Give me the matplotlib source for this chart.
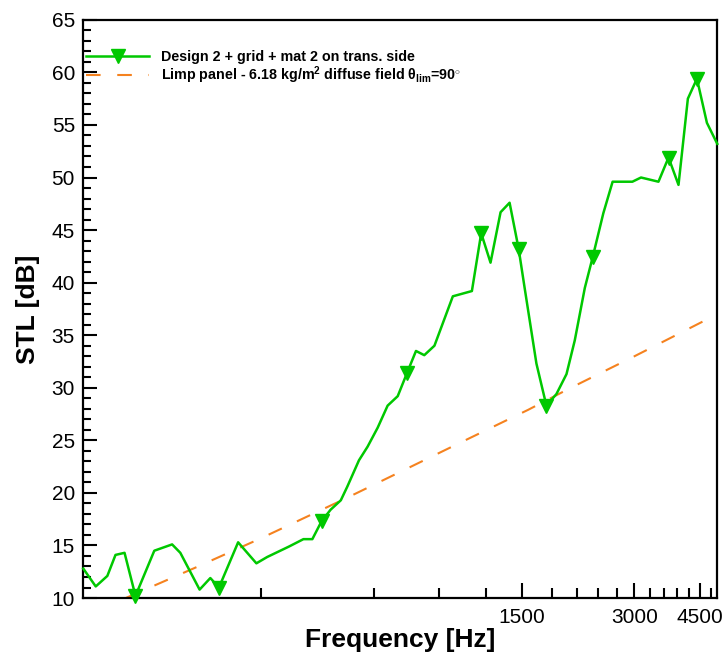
import matplotlib
matplotlib.use("Agg")
import matplotlib.pyplot as plt
from matplotlib.ticker import FixedLocator, NullFormatter, MultipleLocator

plt.rcParams['font.family'] = ['Liberation Sans', 'DejaVu Sans']
plt.rcParams['mathtext.fontset'] = 'custom'
plt.rcParams['mathtext.rm'] = 'Liberation Sans:bold'
plt.rcParams['mathtext.it'] = 'Liberation Sans:bold'

# measured curve: Design 2 + grid + mat 2 on trans. side
freq = [100, 108, 116, 122, 129, 138, 155, 173, 182, 205, 219, 231, 260, 291,
        311, 356, 389, 411, 435, 460, 490, 510, 548, 578, 615, 654, 696, 737,
        779, 820, 873, 978, 1100, 1165, 1234, 1313, 1388, 1468, 1523, 1638,
        1742, 1853, 1972, 2075, 2208, 2317, 2475, 2621, 2772, 2961, 3123, 3478,
        3701, 3936, 4170, 4410, 4690, 5000]
stl = [12.8, 11.1, 12.1, 14.1, 14.3, 10.2, 14.5, 15.1, 14.3, 10.8, 11.9, 11.0,
       15.3, 13.3, 13.9, 14.9, 15.6, 15.6, 17.3, 18.4, 19.3, 20.6, 23.1, 24.4,
       26.2, 28.3, 29.2, 31.4, 33.5, 33.1, 34.0, 38.7, 39.2, 44.7, 41.9, 46.7,
       47.6, 43.2, 39.5, 32.3, 28.3, 29.4, 31.3, 34.5, 39.5, 42.4, 46.6, 49.6,
       49.6, 49.6, 50.0, 49.6, 51.9, 49.3, 57.5, 59.4, 55.2, 53.2]
marker_idx = [5, 11, 18, 27, 33, 37, 40, 45, 52, 55]

# limp panel mass law (diffuse field)
ml_freq = [130, 200, 300, 500, 1000, 1556, 2000, 3000, 5000]
ml_stl = [10.0, 12.9, 15.7, 19.4, 24.6, 27.9, 29.9, 33.0, 37.0]

major_x = [1500, 3000, 4500]
minor_x = [300, 600, 900, 1200, 1800, 2100, 2400, 2700, 3300, 3600, 3900, 4200, 4800]

label1 = "Design 2 + grid + mat 2 on trans. side"
label2 = r"Limp panel - 6.18 kg/m$^2$ diffuse field θ$_{\rm lim}$=90$^{\circ}$"

fig = plt.figure(figsize=(7.26, 6.54), dpi=100)
ax = fig.add_axes([0.1147, 0.0856, 0.8733, 0.8841])

ax.plot(freq, stl, color='#00C800', lw=1.8, marker='v', markersize=10,
        markevery=marker_idx, label=label1, clip_on=False, zorder=3)
ax.plot(ml_freq, ml_stl, color='#F5821F', lw=1.5, dashes=(7, 8), label=label2,
        zorder=2)

ax.set_xscale('log')
ax.set_xlim(100, 5000)
ax.set_ylim(10, 65)

ax.xaxis.set_major_locator(FixedLocator(major_x))
ax.set_xticklabels([str(v) for v in major_x])
ax.xaxis.set_minor_locator(FixedLocator(minor_x))
ax.xaxis.set_minor_formatter(NullFormatter())
ax.yaxis.set_major_locator(MultipleLocator(5))
ax.yaxis.set_minor_locator(MultipleLocator(1))

ax.tick_params(which='both', direction='in', top=False, right=False,
               labelsize=15, width=1.5)
ax.tick_params(axis='y', which='major', length=10, pad=6)
ax.tick_params(axis='y', which='minor', length=6)
ax.tick_params(axis='x', which='major', length=11, pad=7)
ax.tick_params(axis='x', which='minor', length=7)
for s in ax.spines.values():
    s.set_linewidth(1.6)

ax.set_xlabel("Frequency [Hz]", fontsize=19, fontweight='bold')
ax.xaxis.set_label_coords(0.5, -0.051)
ax.set_ylabel("STL [dB]", fontsize=19, fontweight='bold', labelpad=8)

ax.legend(loc='upper left', bbox_to_anchor=(0.0, 0.952), frameon=False,
          borderaxespad=0, borderpad=0.2, handlelength=4.4, handletextpad=0.85,
          labelspacing=0.0, prop={'size': 10.3, 'weight': 'bold'})

fig.savefig("out.png", dpi=100)
